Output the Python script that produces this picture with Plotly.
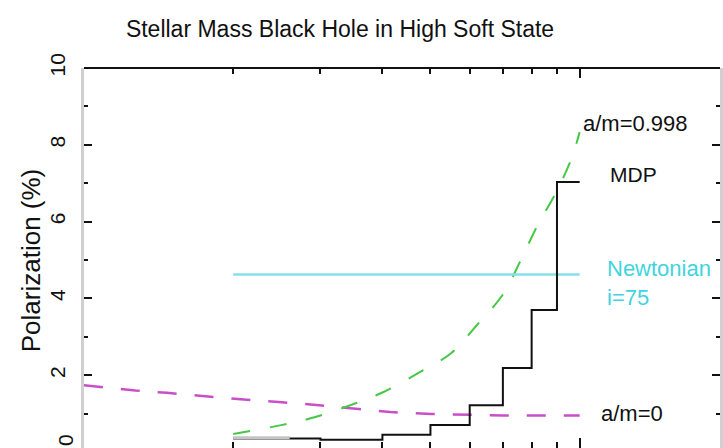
import plotly.graph_objects as go

# Photon energy (keV) bin edges and the minimum detectable polarization per bin (%)
mdp_edges = [2, 3, 4, 5, 6, 7, 8, 9, 10]
mdp_values = [0.35, 0.32, 0.45, 0.70, 1.22, 2.19, 3.70, 7.03]

# Lighter overlay on the lowest bin
mdp_overlay_energy = [2.0, 2.6]
mdp_overlay_value = [0.37, 0.37]

# Newtonian disk, inclination 75 deg
newtonian_energy = [2, 10]
newtonian_pol = [4.62, 4.62]

# Kerr black hole, a/m = 0.998
kerr_energy = [2.0, 2.5, 2.93, 3.5, 4.0, 4.73, 5.51, 6.2, 7.0, 7.61, 8.22, 8.91, 9.6, 10.0]
kerr_pol = [0.47, 0.70, 0.91, 1.25, 1.55, 2.06, 2.58, 3.3, 4.1, 5.0, 5.9, 6.7, 7.6, 8.33]

# Schwarzschild black hole, a/m = 0
schw_energy = [1.0, 1.27, 1.47, 1.77, 2.13, 2.47, 2.98, 3.58, 4.15, 5.02, 5.95, 7.0, 8.35, 10.0]
schw_pol = [1.74, 1.60, 1.54, 1.44, 1.36, 1.30, 1.22, 1.12, 1.04, 0.99, 0.96, 0.95, 0.95, 0.95]

y_ticks = [2, 4, 6, 8, 10]
y_minor = [1, 3, 5, 7, 9]
x_major = [1, 10]
x_minor = [2, 3, 4, 5, 6, 7, 8, 9]

FONT = "Liberation Sans, Arial, Helvetica, sans-serif"
W, H = 723, 448
L, T = 84, 68
PW, PH = W - L, H - T

fig = go.Figure()

fig.add_trace(go.Scatter(x=schw_energy, y=schw_pol, mode="lines",
                         line=dict(color="#c94fc9", width=2.5, dash="19px,18px")))
fig.add_trace(go.Scatter(x=kerr_energy, y=kerr_pol, mode="lines",
                         line=dict(color="#45c845", width=2, dash="17px,20px", shape="spline")))
fig.add_trace(go.Scatter(x=newtonian_energy, y=newtonian_pol, mode="lines",
                         line=dict(color="#86e0e8", width=2.5)))
fig.add_trace(go.Scatter(x=mdp_edges, y=mdp_values + [mdp_values[-1]], mode="lines",
                         line=dict(color="#111111", width=2, shape="hv")))
fig.add_trace(go.Scatter(x=mdp_overlay_energy, y=mdp_overlay_value, mode="lines",
                         line=dict(color="#c4c4c4", width=3)))

fig.update_layout(
    width=W, height=H,
    margin=dict(l=L, r=0, t=T, b=0),
    paper_bgcolor="white", plot_bgcolor="white",
    showlegend=False,
    font=dict(family=FONT, color="#111111"),
    title=dict(text="Stellar Mass Black Hole in High Soft State",
               x=340 / W, xref="container", xanchor="center",
               y=1 - 29 / H, yref="container", yanchor="middle",
               font=dict(size=23, family=FONT, color="#111111")),
    xaxis=dict(type="log", range=[0, PW / 498], showgrid=False, zeroline=False,
               showline=False, showticklabels=False, mirror="ticks",
               ticks="inside", tickmode="array", tickvals=x_major,
               ticklen=10, tickwidth=1.5, tickcolor="#111111",
               minor=dict(tickmode="array", tickvals=x_minor, ticks="inside",
                          ticklen=6, tickwidth=1.5, tickcolor="#111111", showgrid=False)),
    yaxis=dict(range=[10 - PH / 38.4, 10], showgrid=False, zeroline=False,
               showline=True, linecolor="#d0d0d0", linewidth=3, mirror="ticks",
               ticks="inside", tickmode="array", tickvals=y_ticks,
               ticktext=[str(v) for v in y_ticks], tickangle=-90,
               ticklen=8, tickwidth=1.5, tickcolor="#111111",
               tickfont=dict(size=21, family=FONT, color="#111111"),
               ticklabelstandoff=8,
               minor=dict(tickmode="array", tickvals=y_minor, ticks="inside",
                          ticklen=4, tickwidth=1.5, tickcolor="#111111", showgrid=False)),
)

# top frame line
fig.add_shape(type="line", xref="paper", yref="paper", x0=0, x1=1, y0=1, y1=1,
              line=dict(color="#111111", width=2), layer="above")

def px_to_paper_x(px):
    return (px - L) / PW

def px_to_paper_y(py):
    return (H - py) / PH

# zero label of the polarization axis sits at the lower edge of the frame
fig.add_annotation(text="0", xref="paper", yref="paper",
                   x=px_to_paper_x(65), y=px_to_paper_y(440),
                   xanchor="center", yanchor="middle", textangle=-90,
                   showarrow=False, font=dict(size=21, family=FONT, color="#111111"))

fig.add_annotation(text="Polarization (%)", xref="paper", yref="paper",
                   x=px_to_paper_x(31), y=px_to_paper_y(260),
                   xanchor="center", yanchor="middle", textangle=-90,
                   showarrow=False, font=dict(size=26, family=FONT, color="#111111"))

def label(text, energy_log, pol, color="#111111", size=22):
    fig.add_annotation(text=text, x=energy_log, y=pol, xref="x", yref="y",
                       xanchor="left", yanchor="middle", align="left", showarrow=False,
                       font=dict(size=size, family=FONT, color=color))

label("a/m=0.998", (583 - L) / 498, (452 - 123) / 38.4)
label("MDP", (610 - L) / 498, (452 - 174) / 38.4, size=21)
label("Newtonian<br>i=75", (607 - L) / 498, (452 - 283) / 38.4, "#3fd4de", size=22)
label("a/m=0", (601 - L) / 498, (452 - 413) / 38.4)

fig.write_html("out.html")
